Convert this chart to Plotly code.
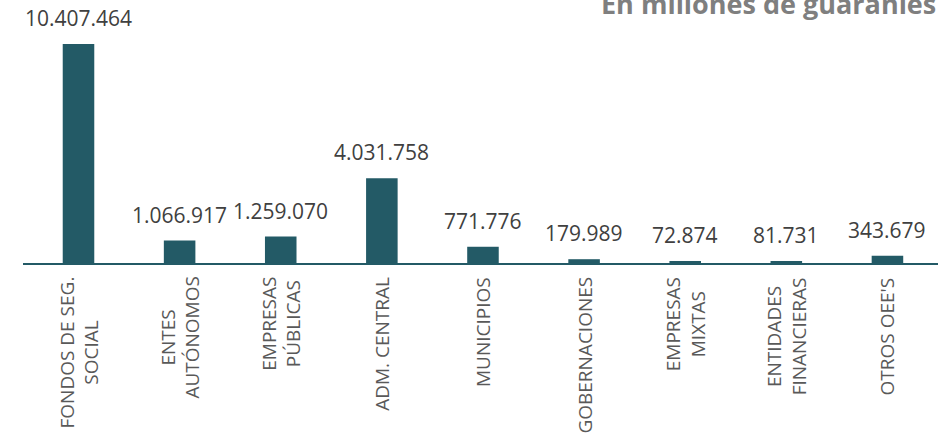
import plotly.graph_objects as go

categories = [
    "FONDOS DE SEG.<br>SOCIAL",
    "ENTES<br>AUTÓNOMOS",
    "EMPRESAS<br>PÚBLICAS",
    "ADM. CENTRAL",
    "MUNICIPIOS",
    "GOBERNACIONES",
    "EMPRESAS<br>MIXTAS",
    "ENTIDADES<br>FINANCIERAS",
    "OTROS OEE'S",
]
values = [10407464, 1066917, 1259070, 4031758, 771776, 179989, 72874, 81731, 343679]
value_labels = ["10.407.464", "1.066.917", "1.259.070", "4.031.758", "771.776",
                "179.989", "72.874", "81.731", "343.679"]
title_text = "En millones de guaraníes"

BAR = "#235A66"
FONT = "Open Sans"

fig = go.Figure()
fig.add_trace(go.Bar(x=categories, y=values, marker=dict(color=BAR, line=dict(width=0)),
                     width=0.312, hoverinfo="skip"))

annotations = []
for c, v, t in zip(categories, values, value_labels):
    annotations.append(dict(x=c, y=v, xref="x", yref="y", text=t, showarrow=False,
                            yanchor="bottom", xanchor="center", yshift=10,
                            font=dict(family=FONT, size=21, color="#404040")))
    annotations.append(dict(x=c, y=0, xref="x", yref="y", text=c, showarrow=False,
                            textangle=-90, yanchor="top", xanchor="center", yshift=-12,
                            align="center",
                            font=dict(family=FONT, size=19, color="#595959")))
annotations.append(dict(x=1, y=1, xref="paper", yref="paper", text="<b>" + title_text + "</b>",
                        showarrow=False, xanchor="right", yanchor="bottom", xshift=0, yshift=6,
                        font=dict(family=FONT, size=27, color="#7F7F7F")))

fig.update_layout(
    width=948, height=439,
    margin=dict(l=23, r=10, t=30, b=176, autoexpand=False),
    paper_bgcolor="white", plot_bgcolor="white",
    showlegend=False,
    bargap=0.69,
    annotations=annotations,
    xaxis=dict(showticklabels=False, showline=True, linecolor=BAR, linewidth=2,
               ticks="", showgrid=False, zeroline=False),
    yaxis=dict(range=[0, 11.07e6], visible=False, showgrid=False, zeroline=False),
)

fig.write_html("out.html", config={"displayModeBar": False},
               post_script="document.body.style.margin='0';document.body.style.overflow='hidden';")
